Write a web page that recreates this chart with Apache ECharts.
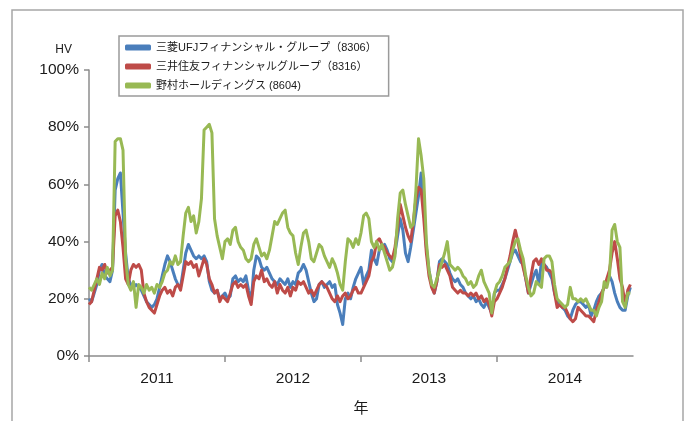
<!DOCTYPE html>
<html>
<head>
<meta charset="utf-8">
<script src="https://cdn.jsdelivr.net/npm/echarts/dist/echarts.min.js"></script>
<style>
  html, body { margin: 0; padding: 0; background: #fff; }
  #chart { width: 690px; height: 421px; }
</style>
</head>
<body>
<div id="chart"></div>
<script>
// weekly HV, one value per week, 52 weeks per year (2011-2014)
const years = ['2011', '2012', '2013', '2014'];
const weeksPerYear = 52;

const mufg = [
  20,19,22,25,30,32,28,27,26,30, 58,62,64,50,36,27,25,24,25,24, 23,21,19,18,17,18,20,24,28,32, 35,33,30,27,25,24,30,36,39,37, 35,34,35,34,35,33,26,23,22,23, 20,21,
  22,20,21,27,28,26,27,26,28,23, 19,30,35,34,31,30,31,29,27,26, 25,27,26,25,27,24,26,25,29,30, 32,30,26,22,19,20,25,26,24,25, 26,24,25,18,15,11,20,22,20,24, 27,29,
  31,25,28,30,37,34,32,37,38,39, 37,34,33,36,42,48,44,36,33,38, 44,50,56,64,52,38,30,25,22,26, 33,34,33,32,29,27,26,27,25,24, 22,21,20,21,19,20,18,17,19,17, 15,22,
  23,23,25,27,30,33,36,37,35,33, 32,27,22,25,28,30,25,33,32,31, 29,27,22,19,18,17,16,14,13,16, 18,19,19,18,17,18,14,16,19,21, 22,24,26,28,26,22,19,17,16,16, 21,24
];
const smfg = [
  18,19,23,27,31,30,32,29,30,31, 49,51,47,38,27,25,30,32,31,32, 30,22,19,17,16,15,18,21,23,24, 22,23,21,24,25,23,28,33,32,33, 31,32,28,31,34,32,27,25,22,23, 19,21,
  20,19,22,25,26,24,25,24,25,21, 18,26,28,27,30,26,27,25,24,26, 22,25,23,22,24,21,24,23,26,25, 26,24,22,23,21,23,25,26,25,24, 22,20,19,21,19,21,22,20,21,23, 24,22,
  22,24,26,28,33,35,40,41,39,38, 36,35,34,38,45,53,49,45,42,40, 47,55,59,58,48,36,28,24,22,26, 32,31,32,30,28,24,23,22,23,22, 22,21,22,21,22,20,21,19,20,18, 14,19,
  20,22,24,27,31,35,40,44,40,35, 31,27,22,28,33,34,32,34,32,30, 30,29,22,17,18,17,17,15,13,12, 13,17,16,15,14,14,13,12,16,19, 22,24,27,30,36,40,34,27,24,18, 23,25
];
const nomura = [
  24,23,25,27,25,29,27,31,28,30, 75,76,76,72,34,25,23,26,17,25, 24,22,25,23,24,22,25,24,26,29, 30,33,32,35,32,33,42,50,52,47, 49,43,47,55,79,80,81,78,48,42, 38,34,
  40,41,39,44,45,40,38,37,34,33, 34,39,41,38,35,36,34,37,42,47, 46,48,50,51,45,43,42,36,32,38, 43,44,40,34,33,36,39,38,35,33, 31,34,32,29,25,23,33,41,40,38, 41,39,
  43,49,50,48,40,38,40,37,39,36, 33,30,31,35,48,57,58,53,49,45, 46,58,76,70,62,40,30,25,24,27, 30,33,36,40,32,31,30,31,30,28, 27,25,26,24,25,28,30,26,24,22, 15,22,
  25,26,28,31,32,33,37,40,41,37, 34,28,24,21,22,26,25,24,34,35, 35,33,25,20,19,18,17,18,24,20, 20,19,20,19,20,18,16,16,14,17, 19,26,24,28,44,46,40,38,19,17, 22,22
];

const seriesNames = [
  '三菱UFJフィナンシャル・グループ（8306）',
  '三井住友フィナンシャルグループ（8316）',
  '野村ホールディングス (8604)'
];
const colors = ['#4a7ebb', '#be4b48', '#98b954'];
const font = "'Liberation Sans', 'Noto Sans CJK JP', sans-serif";

// week slots, plus one closing slot so 2014 gets a full band
const categories = [];
years.forEach(y => {
  for (let w = 1; w <= weeksPerYear; w++) categories.push(y + '/' + w);
});
categories.push('2015/1');

const chart = echarts.init(document.getElementById('chart'));
const axisColor = '#8c8c8c';

chart.setOption({
  animation: false,
  backgroundColor: '#fff',
  color: colors,
  graphic: [{
    type: 'rect',
    shape: { x: 12, y: 10, width: 671, height: 430 },
    style: { fill: 'none', stroke: '#a6a6a6', lineWidth: 1.5 }
  }],
  grid: { left: 89, right: 57, top: 70, bottom: 64 },
  legend: {
    orient: 'vertical',
    left: 119,
    top: 36,
    padding: [6, 12, 5, 6],
    borderColor: '#9a9a9a',
    borderWidth: 1.5,
    itemWidth: 26,
    itemHeight: 6,
    itemGap: 8,
    icon: 'roundRect',
    textStyle: { fontSize: 11, color: '#1a1a1a', fontFamily: font },
    data: seriesNames
  },
  xAxis: {
    type: 'category',
    data: categories,
    boundaryGap: false,
    name: '年',
    nameLocation: 'middle',
    nameGap: 45,
    nameTextStyle: { fontSize: 15, color: '#1a1a1a', fontFamily: font },
    axisLine: { lineStyle: { color: axisColor, width: 1.5 } },
    axisTick: {
      length: 6,
      interval: (i) => i % weeksPerYear === 0 && i < categories.length - 1,
      lineStyle: { color: axisColor, width: 1.5 }
    },
    axisLabel: {
      interval: (i) => i % weeksPerYear === weeksPerYear / 2,
      formatter: (v) => v.slice(0, 4),
      fontSize: 15.5,
      color: '#1a1a1a',
      fontFamily: font,
      margin: 15
    },
    splitLine: { show: false }
  },
  yAxis: {
    type: 'value',
    min: 0,
    max: 100,
    interval: 20,
    name: 'HV',
    nameLocation: 'end',
    nameGap: 14,
    nameTextStyle: { fontSize: 12, color: '#1a1a1a', fontFamily: font, align: 'right', padding: [0, 17, 0, 0] },
    axisLine: { show: true, lineStyle: { color: axisColor, width: 1.5 } },
    axisTick: { show: true, length: 5, lineStyle: { color: axisColor, width: 1.5 } },
    axisLabel: { formatter: '{value}%', fontSize: 15.5, color: '#1a1a1a', fontFamily: font, margin: 10 },
    splitLine: { show: false }
  },
  series: [mufg, smfg, nomura].map((d, i) => ({
    name: seriesNames[i],
    type: 'line',
    data: d,
    symbol: 'none',
    lineStyle: { width: 3, color: colors[i], join: 'round' },
    itemStyle: { color: colors[i] }
  }))
});
</script>
</body>
</html>
